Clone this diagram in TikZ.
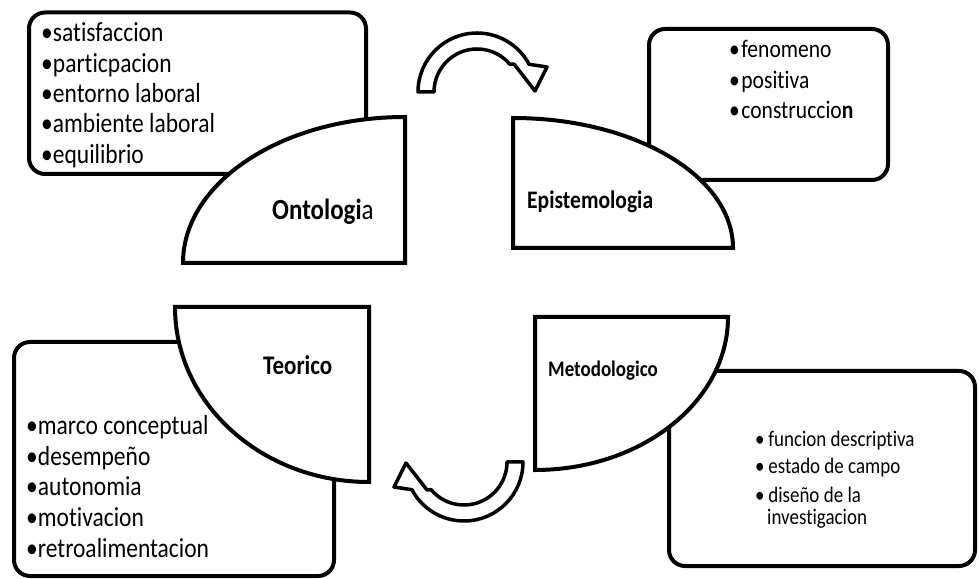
\documentclass[tikz,border=0pt]{standalone}
\usepackage{fontspec}
\setmainfont[FakeStretch=0.855,Ligatures=NoCommon]{Carlito}
\begin{document}
\begin{tikzpicture}[x=1pt,y=1pt,
  frame/.style={draw=black, line width=4pt, rounded corners=16pt, fill=white},
  quarter/.style={draw=black, line width=4pt, fill=white, line join=miter},
  bendarrow/.style={draw=black, line width=3.5pt, fill=white, line join=round},
  itemA/.style={font=\fontsize{27.5}{32}\selectfont, anchor=base west, inner sep=0pt},
  itemB/.style={font=\fontsize{25.2}{30}\selectfont, anchor=base west, inner sep=0pt},
  itemC/.style={font=\fontsize{22.2}{27}\selectfont, anchor=base west, inner sep=0pt},
  head/.style={anchor=base west, inner sep=0pt}]
\useasboundingbox (0,0) rectangle (979,578);
\fill[white] (0,0) rectangle (979,578);

% list frames
\draw[frame] (29,565.5) rectangle (366,404);
\draw[frame] (649,549) rectangle (888,398);
\draw[frame] (14,236) rectangle (334,2);
\draw[frame] (669,207) rectangle (975,12);

% quarter shapes
\draw[quarter] (183,315) -- (405,315) -- (405,461)
  arc[start angle=90,end angle=180,x radius=222,y radius=146] -- cycle;
\draw[quarter] (513,330) -- (513,460)
  arc[start angle=90,end angle=0,x radius=220,y radius=130] -- cycle;
\draw[quarter] (175,271) -- (369,271) -- (369,96)
  arc[start angle=270,end angle=180,x radius=194,y radius=175] -- cycle;
\draw[quarter] (535,261) -- (728,261)
  arc[start angle=0,end angle=-90,x radius=193,y radius=153] -- cycle;

% curved arrows
\begin{scope}[shift={(477,486)}]
\draw[bendarrow] (180:59) arc[start angle=180,end angle=28,radius=59]
  -- (70,25) -- (58,1) -- (37,28) -- (40:43)
  arc[start angle=40,end angle=180,radius=43] -- cycle;
\end{scope}
\begin{scope}[shift={(464,116)},rotate=180]
\draw[bendarrow] (180:59) arc[start angle=180,end angle=28,radius=59]
  -- (70,25) -- (58,1) -- (37,28) -- (40:43)
  arc[start angle=40,end angle=180,radius=43] -- cycle;
\end{scope}

% headings
\node[head, font=\fontsize{29.2}{34}\selectfont\bfseries] (ont) at (272,358) {Ontologi\textmd{a}};
\node[head, font=\fontsize{25.2}{30}\selectfont\bfseries] (epi) at (527,369) {Epistemologia};
\node[head, font=\fontsize{26.9}{32}\selectfont\bfseries] (teo) at (263,203) {Teorico};
\node[head, font=\fontsize{22.2}{27}\selectfont\bfseries] (met) at (548,201) {Metodologico};

% lists
\foreach \t [count=\i] in {satisfaccion,particpacion,entorno laboral,ambiente laboral,equilibrio}
  \node[itemA] (o\i) at (41,{536-30.3*(\i-1)}) {•\t};
\node[itemB] (e1) at (729,520) {•\kern1.5pt fenomeno};
\node[itemB] (e2) at (729,489.5) {•\kern1.5pt positiva};
\node[itemB] (e3) at (729,459) {•\kern1.5pt construccio\textbf{n}};
\foreach \t [count=\i] in {marco conceptual,desempeño,autonomia,motivacion,retroalimentacion}
  \node[itemA] (t\i) at (26,{143-30.5*(\i-1)}) {•\t};
\node[itemC] (m1) at (755,131) {•\,funcion descriptiva};
\node[itemC] (m2) at (755,104) {•\,estado de campo};
\node[itemC] (m3) at (755,75) {•\,diseño de la};
\node[itemC] (m4) at (767,53) {investigacion};
\end{tikzpicture}
\end{document}
